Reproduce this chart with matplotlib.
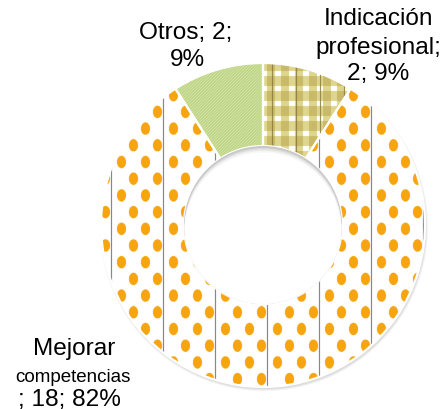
import numpy as np
import matplotlib.pyplot as plt
from matplotlib.patches import Circle

# datos del grafico
categorias = ['Indicación profesional', 'Mejorar competencias', 'Otros']
valores = [2, 18, 2]
porcentajes = [9, 82, 9]

W, H = 446, 410
fig = plt.figure(figsize=(W / 100, H / 100), dpi=100)
ax = fig.add_axes([0, 0, 1, 1])

cx, cy = 263, H - 226
R, r = 162, 79

wedges, _ = ax.pie(valores, center=(cx, cy), radius=R, startangle=90,
                   counterclock=False, colors=['white'] * 3, frame=True,
                   wedgeprops=dict(width=R - r, zorder=1))
ax.set_xlim(0, W)
ax.set_ylim(0, H)
ax.set_aspect('equal')
ax.axis('off')


# texturas (en pixeles, supermuestreo x3)
s = 3
xs = (np.arange(W * s) + 0.5) / s
ys = (np.arange(H * s) + 0.5) / s
X, Y = np.meshgrid(xs, ys)


def hex2rgb(h):
    h = h.lstrip('#')
    return np.array([int(h[i:i + 2], 16) / 255 for i in (0, 2, 4)])


# puntos naranjas con lineas verticales
tex_dots = np.ones((H * s, W * s, 3))
u = np.mod(X - 111, 52)
j = np.clip(np.floor((u - 4.5) / 12), 0, 3)
dx = u - (10.5 + 12 * j)
off = np.where(j % 2 == 1, 163 + 16.7, 163.0)
dy = np.mod(Y - off + 16.7, 33.4) - 16.7
tex_dots[(dx / 4.6) ** 2 + (dy / 6.2) ** 2 <= 1] = hex2rgb('#f6a410')
tex_dots[u < 1] = hex2rgb('#707070')

# cuadros (plaid)
tex_plaid = np.ones((H * s, W * s, 3))
vx = np.mod(X - 275, 14) >= 6
hy = np.mod(Y - 72, 15) >= 5
tex_plaid[vx ^ hy] = hex2rgb('#dfd690')
tex_plaid[vx & hy] = hex2rgb('#c8ba68')
tex_plaid[np.mod(X - 272, 24) < 1] = hex2rgb('#8a7c36')

# diagonal verde
tex_green = np.empty((H * s, W * s, 3))
tex_green[:] = hex2rgb('#d3e3a4')
tex_green[np.mod(X + Y, 3) < 1.2] = hex2rgb('#b6cf7c')

# sombra exterior
for k, a in enumerate([0.10, 0.12, 0.15]):
    ax.add_patch(Circle((cx + 1, cy - 2), R + 2 - k, facecolor='#909090',
                        edgecolor='none', alpha=a, zorder=0))

for w, tex in zip(wedges, [tex_plaid, tex_dots, tex_green]):
    im = ax.imshow(tex, extent=(0, W, 0, H), origin='upper',
                   interpolation='antialiased', zorder=2)
    im.set_clip_path(w)
    w.set_facecolor('none')
    w.set_edgecolor('white')
    w.set_linewidth(1.6)
    w.set_zorder(3)

# sombra interior del agujero
hole = Circle((cx, cy), r, facecolor='#c8c8c8', edgecolor='none', zorder=4)
ax.add_patch(hole)
for k, (d, col) in enumerate([(1.5, '#dcdcdc'), (3, '#ececec'), (4.5, '#f7f7f7'), (6, 'white')]):
    c = Circle((cx, cy - d), r - 0.5, facecolor=col, edgecolor='none', zorder=5 + k)
    ax.add_patch(c)
    c.set_clip_path(hole)

# etiquetas
fam = ['Liberation Sans', 'DejaVu Sans']
big = 17.6
ax.text(186, H - 39, f'Otros; {valores[2]};', fontsize=big, family=fam, ha='center', va='baseline')
ax.text(187, H - 66, f'{porcentajes[2]}%', fontsize=big, family=fam, ha='center', va='baseline')

ax.text(378, H - 25, 'Indicación', fontsize=big, family=fam, ha='center', va='baseline')
ax.text(378, H - 54, 'profesional;', fontsize=big, family=fam, ha='center', va='baseline')
ax.text(378, H - 80, f'{valores[0]}; {porcentajes[0]}%', fontsize=big, family=fam,
        ha='center', va='baseline')

ax.text(74, H - 355, 'Mejorar', fontsize=big, family=fam, ha='center', va='baseline')
ax.text(73, H - 382, 'competencias', fontsize=13.5, family=fam, ha='center', va='baseline')
ax.text(69, H - 406, f'; {valores[1]}; {porcentajes[1]}%', fontsize=big, family=fam,
        ha='center', va='baseline')

plt.savefig('out.png', dpi=100)
